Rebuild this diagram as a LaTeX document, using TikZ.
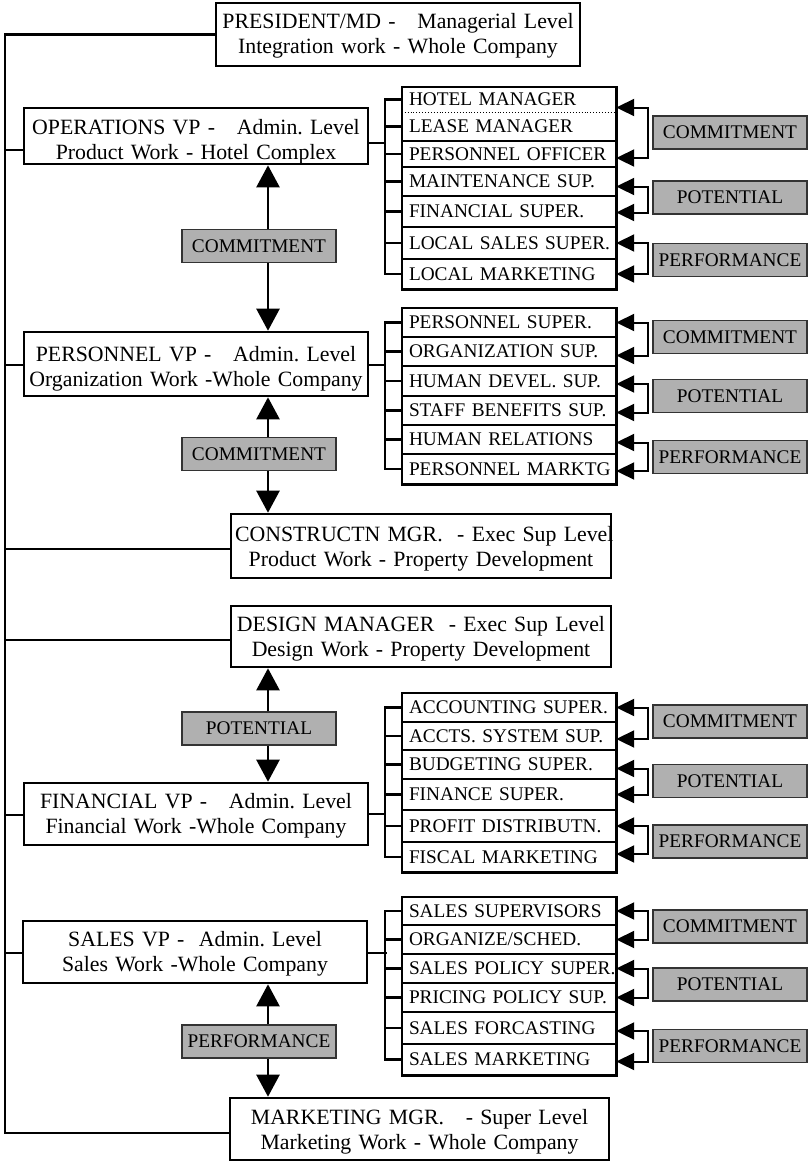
\documentclass[tikz,border=0pt]{standalone}
\usepackage{fontspec}
\setmainfont{Liberation Serif}
\usetikzlibrary{arrows.meta}
\frenchspacing

\newcommand\boxfont{\fontsize{21.8}{25}\selectfont}
\newcommand\listfont{\fontsize{19.3}{21}\selectfont}
% strut on the first line of a unit: lowers the two text lines a little
\newcommand\drop[1]{\rule{0pt}{#1pt}}
\definecolor{labelgray}{RGB}{176,176,176}

\tikzset{
  unit/.style={draw, line width=2.6pt, fill=white, text width=#1,
    inner xsep=4pt, inner ysep=0pt, align=center, font=\boxfont},
  listrow/.style={minimum height=#1pt, text width=200pt, inner xsep=7pt,
    inner ysep=0pt, align=left, font=\listfont},
  grade/.style={draw=black!80, line width=1.4pt, fill=labelgray,
    minimum width=154pt, minimum height=33pt, inner sep=0pt, font=\listfont},
  wire/.style={line width=2.6pt},
  frame/.style={line width=2.6pt},
  divider/.style={line width=1.8pt},
  bigarrow/.style={line width=2.4pt, -{Triangle[length=22pt,width=23pt]}},
  sidearrow/.style={line width=2pt,
    {Triangle[length=18pt,width=17pt]}-{Triangle[length=18pt,width=17pt]}}
}

\newcommand\listrow[4]{\node[listrow=#3] (#1) at (509,#2) {\mbox{#4}};}

\begin{document}
\begin{tikzpicture}[x=1pt,y=-1pt]
\useasboundingbox (0,0) rectangle (810,1163);

% ---- main units ----
\node[unit=356pt, minimum height=63pt] (pres) at (398,34.5)
  {\mbox{\drop{17}PRESIDENT/MD -\ \ \ Managerial Level}\\\mbox{Integration work - Whole Company}};
\node[unit=336pt, minimum height=56pt] (ops) at (196,136)
  {\mbox{\drop{26}OPERATIONS VP -\ \ \ Admin. Level}\\\mbox{Product Work - Hotel Complex}};
\node[unit=336pt, minimum height=64pt] (pers) at (196,364)
  {\mbox{\drop{24}PERSONNEL VP -\ \ \ Admin. Level}\\\mbox{Organization Work -Whole Company}};
\node[unit=372pt, minimum height=64pt] (cons) at (421,546)
  {\mbox{\drop{21}CONSTRUCTN MGR.\ \ - Exec Sup Level}\\\mbox{Product Work - Property Development}};
\node[unit=372pt, minimum height=61pt] (design) at (421,636.5)
  {\mbox{\drop{19}DESIGN MANAGER\ \ - Exec Sup Level}\\\mbox{Design Work - Property Development}};
\node[unit=336pt, minimum height=62pt] (fin) at (196,814)
  {\mbox{\drop{19}FINANCIAL VP -\ \ \ Admin. Level}\\\mbox{Financial Work -Whole Company}};
\node[unit=336pt, minimum height=62pt] (sales) at (195,952)
  {\mbox{\drop{19}SALES VP -\ \ Admin. Level}\\\mbox{Sales Work -Whole Company}};
\node[unit=371pt, minimum height=62pt] (mkt) at (419.5,1129)
  {\mbox{\drop{21}MARKETING MGR.\ \ \ - Super Level}\\\mbox{Marketing Work - Whole Company}};

% ---- left trunk ----
\coordinate (tx) at (5,0);
\coordinate (mkL) at ([yshift=-4pt]mkt.west);
\draw[wire] (pres.west) -| (tx |- mkL) -- (mkL);
\coordinate (opsL) at ([yshift=-14pt]ops.west);
\coordinate (persL) at ([yshift=-1pt]pers.west);
\coordinate (consL) at ([yshift=-3pt]cons.west);
\coordinate (designL) at ([yshift=-3.5pt]design.west);
\coordinate (finL) at ([yshift=-1pt]fin.west);
\coordinate (salesL) at ([yshift=-1pt]sales.west);
\foreach \c in {opsL,persL,consL,designL,finL,salesL}
  \draw[wire] (tx |- \c) -- (\c);

% ---- duty lists ----
\listrow{a1}{99.5}{25}{HOTEL MANAGER}
\listrow{a2}{126.5}{29}{LEASE MANAGER}
\listrow{a3}{154}{26}{PERSONNEL OFFICER}
\listrow{a4}{181.5}{29}{MAINTENANCE SUP.}
\listrow{a5}{211.5}{31}{FINANCIAL SUPER.}
\listrow{a6}{243}{32}{LOCAL SALES SUPER.}
\listrow{a7}{274}{30}{LOCAL MARKETING}

\listrow{b1}{322.5}{29}{PERSONNEL SUPER.}
\listrow{b2}{351.5}{29}{ORGANIZATION SUP.}
\listrow{b3}{381}{30}{HUMAN DEVEL. SUP.}
\listrow{b4}{410.5}{29}{STAFF BENEFITS SUP.}
\listrow{b5}{439.5}{29}{HUMAN RELATIONS}
\listrow{b6}{469}{30}{PERSONNEL MARKTG}

\listrow{c1}{707.5}{29}{ACCOUNTING SUPER.}
\listrow{c2}{736}{28}{ACCTS. SYSTEM SUP.}
\listrow{c3}{764.5}{29}{BUDGETING SUPER.}
\listrow{c4}{794.5}{31}{FINANCE SUPER.}
\listrow{c5}{826}{32}{PROFIT DISTRIBUTN.}
\listrow{c6}{857}{30}{FISCAL MARKETING}

\listrow{d1}{911}{28}{SALES SUPERVISORS}
\listrow{d2}{939.5}{29}{ORGANIZE/SCHED.}
\listrow{d3}{968.5}{29}{SALES POLICY SUPER.}
\listrow{d4}{997.5}{29}{PRICING POLICY SUP.}
\listrow{d5}{1028}{32}{SALES FORCASTING}
\listrow{d6}{1059.5}{31}{SALES MARKETING}

% frames and dividers
\draw[frame] (a1.north west) rectangle (a7.south east);
\draw[line width=0.9pt, dotted] (a1.south west) -- (a1.south east);
\foreach \r in {a2,a3,a4,a5,a6}
  \draw[divider] (\r.south west) -- (\r.south east);
\draw[frame] (b1.north west) rectangle (b6.south east);
\draw[frame] (c1.north west) rectangle (c6.south east);
\draw[frame] (d1.north west) rectangle (d6.south east);
\foreach \r in {b1,b2,b3,b4,b5,c1,c2,c3,c4,c5,d1,d2,d3,d4,d5}
  \draw[divider] (\r.south west) -- (\r.south east);

% brackets from each unit to its list
\draw[wire] ([yshift=-7pt]ops.east) -- ++(17,0);
\draw[wire] (a1.west) -- ++(-17,0) |- (a7.west);
\foreach \r in {a2,a3,a4,a5,a6} \draw[wire] (\r.west) -- ++(-17,0);
\draw[wire] ([yshift=-1pt]pers.east) -- ++(17,0);
\draw[wire] (b1.west) -- ++(-17,0) |- (b6.west);
\foreach \r in {b2,b3,b4,b5} \draw[wire] (\r.west) -- ++(-17,0);
\draw[wire] (fin.east) -- ++(17,0);
\draw[wire] (c1.west) -- ++(-17,0) |- (c6.west);
\foreach \r in {c2,c3,c4,c5} \draw[wire] (\r.west) -- ++(-17,0);
\draw[wire] ([yshift=-1pt]sales.east) -- ++(19,0);
\draw[wire] (d1.west) -- ++(-17,0) |- (d6.west);
\foreach \r in {d2,d3,d4,d5} \draw[wire] (\r.west) -- ++(-17,0);

% ---- side grades with paired arrows ----
\node[grade] (ga1) at (730,132.5) {COMMITMENT};
\node[grade] (ga2) at (730,197.5) {POTENTIAL};
\node[grade] (ga3) at (730,260) {PERFORMANCE};
\draw[sidearrow] ([yshift=-8pt]a1.east) -- ++(32,0) |- ([yshift=-4pt]a3.east);
\draw[sidearrow] ([yshift=-5pt]a4.east) -- ++(32,0) |- ([yshift=-1pt]a5.east);
\draw[sidearrow] (a6.east) -- ++(32,0) |- (a7.east);

\node[grade] (gb1) at (730,337) {COMMITMENT};
\node[grade] (gb2) at (730,396) {POTENTIAL};
\node[grade] (gb3) at (730,457) {PERFORMANCE};
\draw[sidearrow] (b1.east) -- ++(32,0) |- ([yshift=-4pt]b2.east);
\draw[sidearrow] ([yshift=-3pt]b3.east) -- ++(32,0) |- ([yshift=-2pt]b4.east);
\draw[sidearrow] ([yshift=-3pt]b5.east) -- ++(32,0) |- ([yshift=-2pt]b6.east);

\node[grade] (gc1) at (730,721.5) {COMMITMENT};
\node[grade] (gc2) at (730,781) {POTENTIAL};
\node[grade] (gc3) at (730,841.5) {PERFORMANCE};
\draw[sidearrow] (c1.east) -- ++(32,0) |- ([yshift=-3pt]c2.east);
\draw[sidearrow] ([yshift=-4pt]c3.east) -- ++(32,0) |- (c4.east);
\draw[sidearrow] (c5.east) -- ++(32,0) |- ([yshift=3pt]c6.east);

\node[grade] (gd1) at (730,926.5) {COMMITMENT};
\node[grade] (gd2) at (730,984.5) {POTENTIAL};
\node[grade] (gd3) at (730,1046) {PERFORMANCE};
\draw[sidearrow] (d1.east) -- ++(32,0) |- (d2.east);
\draw[sidearrow] (d3.east) -- ++(32,0) |- (d4.east);
\draw[sidearrow] ([yshift=-3pt]d5.east) -- ++(32,0) |- ([yshift=-2pt]d6.east);

% ---- grades between units ----
\node[grade] (m1) at (259,246) {COMMITMENT};
\node[grade] (m2) at (259,454) {COMMITMENT};
\node[grade] (m3) at (259,728.5) {POTENTIAL};
\node[grade] (m4) at (259,1041.5) {PERFORMANCE};
\coordinate (m1n) at ([xshift=9pt]m1.north);
\coordinate (m1s) at ([xshift=9pt]m1.south);
\coordinate (m2n) at ([xshift=9pt]m2.north);
\coordinate (m2s) at ([xshift=9pt]m2.south);
\coordinate (m3n) at ([xshift=9pt]m3.north);
\coordinate (m3s) at ([xshift=9pt]m3.south);
\coordinate (m4n) at ([xshift=9pt]m4.north);
\coordinate (m4s) at ([xshift=9pt]m4.south);
\draw[bigarrow] (m1n) -- (m1n |- ops.south);
\draw[bigarrow] (m1s) -- (m1s |- pers.north);
\draw[bigarrow] (m2n) -- (m2n |- pers.south);
\draw[bigarrow] (m2s) -- (m2s |- cons.north);
\draw[bigarrow] (m3n) -- (m3n |- design.south);
\draw[bigarrow] (m3s) -- (m3s |- fin.north);
\draw[bigarrow] (m4n) -- (m4n |- sales.south);
\draw[bigarrow] (m4s) -- (m4s |- mkt.north);
\end{tikzpicture}
\end{document}
